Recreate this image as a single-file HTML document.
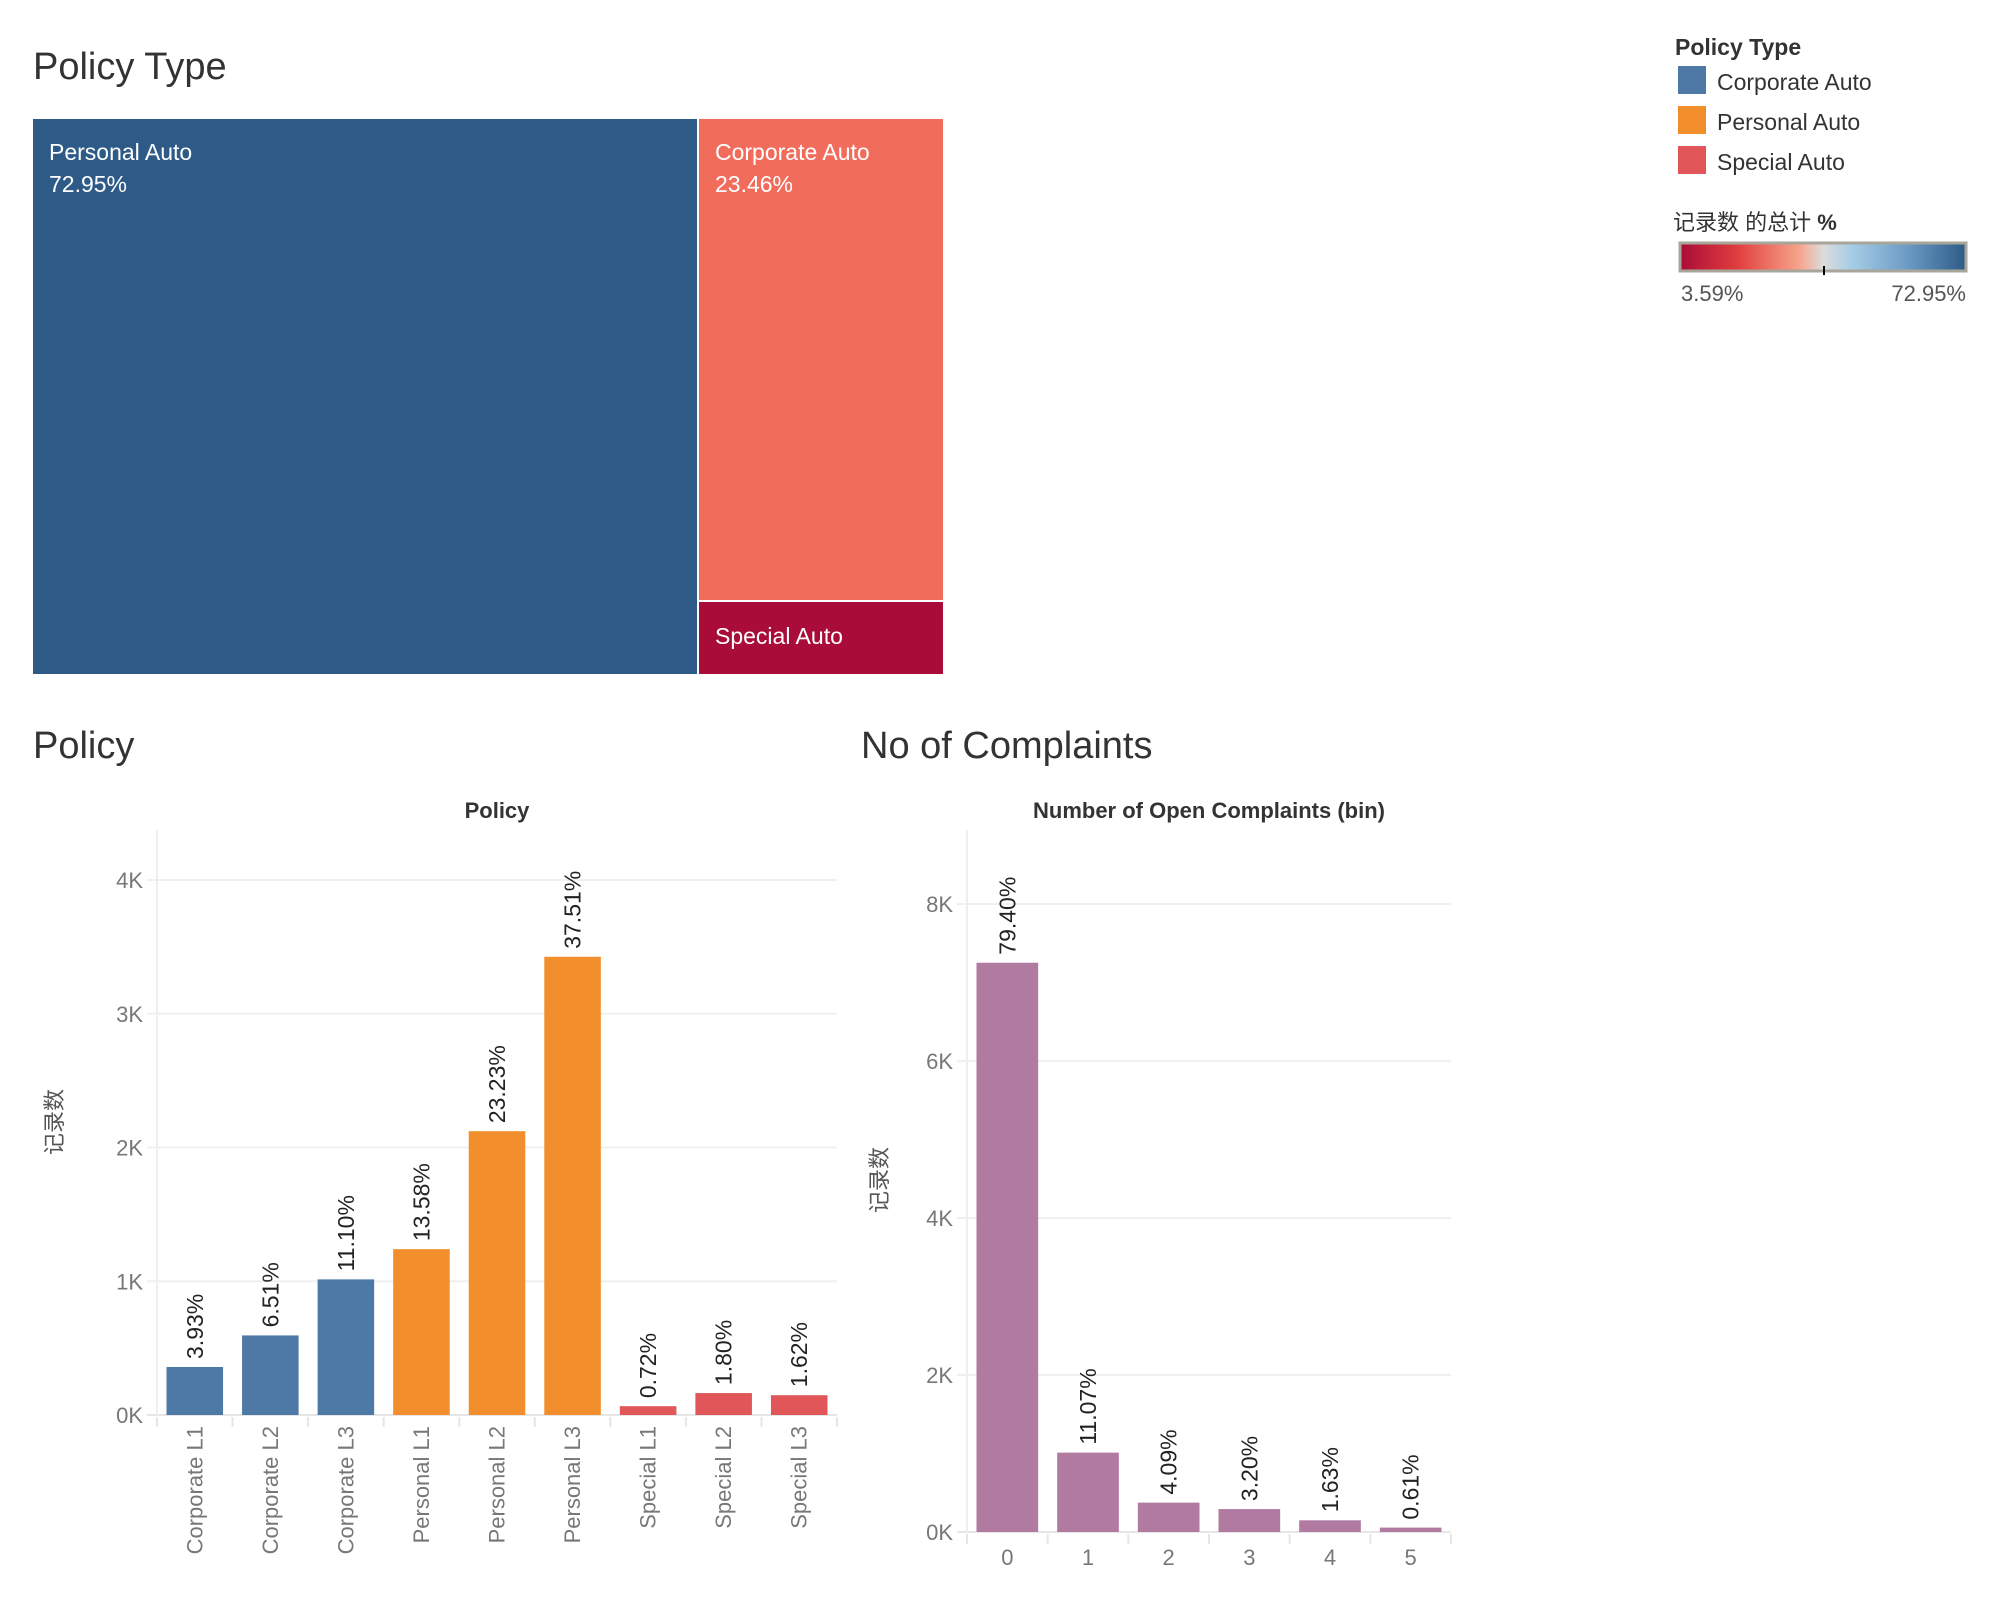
<!DOCTYPE html>
<html><head><meta charset="utf-8"><style>
html,body{margin:0;padding:0;background:#fff;}
svg text{font-family:"Liberation Sans","Noto Sans CJK SC",sans-serif;}
</style></head><body>
<svg id="root" width="2000" height="1600" viewBox="0 0 2000 1600" xmlns="http://www.w3.org/2000/svg">
<defs>
<linearGradient id="grad" x1="0" x2="1" y1="0" y2="0">
<stop offset="0" stop-color="#a90c38"/><stop offset="0.2" stop-color="#e03e3e"/><stop offset="0.42" stop-color="#f7a58c"/><stop offset="0.5" stop-color="#dcdcdc"/><stop offset="0.6" stop-color="#a6cde5"/><stop offset="0.8" stop-color="#6a9ac4"/><stop offset="1" stop-color="#2e5a87"/>
</linearGradient>
</defs>
<text x="33" y="79" font-size="38" fill="#333">Policy Type</text>
<g>
<rect x="33" y="119" width="664" height="555" fill="#2e5a87"/>
<rect x="699" y="119" width="244" height="481" fill="#f26c5c"/>
<rect x="699" y="602" width="244" height="72" fill="#a90c38"/>
<text x="49" y="160" font-size="23" fill="#fff">Personal Auto</text>
<text x="49" y="192" font-size="23" fill="#fff">72.95%</text>
<text x="715" y="160" font-size="23" fill="#fff">Corporate Auto</text>
<text x="715" y="192" font-size="23" fill="#fff">23.46%</text>
<text x="715" y="644" font-size="23" fill="#fff">Special Auto</text>
</g>
<g>
<text x="1675" y="55" font-size="23" font-weight="bold" fill="#333">Policy Type</text>
<rect x="1678" y="66" width="28" height="28" fill="#4e79a7"/>
<text x="1717" y="90" font-size="23" fill="#333">Corporate Auto</text>
<rect x="1678" y="106" width="28" height="28" fill="#f28e2b"/>
<text x="1717" y="130" font-size="23" fill="#333">Personal Auto</text>
<rect x="1678" y="146" width="28" height="28" fill="#e15759"/>
<text x="1717" y="170" font-size="23" fill="#333">Special Auto</text>
<text x="1673" y="230" font-size="22" fill="#333">记录数 的总计 <tspan font-weight="bold">%</tspan></text>
<rect x="1680" y="243" width="286" height="28" fill="url(#grad)" stroke="#a8a59a" stroke-width="3"/>
<line x1="1824" y1="266" x2="1824" y2="275" stroke="#000" stroke-width="2"/>
<text x="1681" y="301" font-size="22" fill="#555">3.59%</text>
<text x="1966" y="301" font-size="22" fill="#555" text-anchor="end">72.95%</text>
</g>
<text x="33" y="758" font-size="38" fill="#333">Policy</text>
<text x="861" y="758" font-size="38" fill="#333">No of Complaints</text>
<g id="c1"></g>
<g id="c2"></g>
</svg>
<script>
const policyCats = ["Corporate L1","Corporate L2","Corporate L3","Personal L1","Personal L2","Personal L3","Special L1","Special L2","Special L3"];
const policyCounts = [359,595,1014,1240,2122,3426,66,164,148];
const policyPcts = ["3.93%","6.51%","11.10%","13.58%","23.23%","37.51%","0.72%","1.80%","1.62%"];
const policyGroups = ["Corporate","Corporate","Corporate","Personal","Personal","Personal","Special","Special","Special"];
const policyTicks = [0,1000,2000,3000,4000];
const policyTickLabels = ["0K","1K","2K","3K","4K"];
const compCats = ["0","1","2","3","4","5"];
const compCounts = [7252,1011,374,292,149,56];
const compPcts = ["79.40%","11.07%","4.09%","3.20%","1.63%","0.61%"];
const compTicks = [0,2000,4000,6000,8000];
const compTickLabels = ["0K","2K","4K","6K","8K"];

const NS="http://www.w3.org/2000/svg";
function mk(parent,tag,attrs,txt){const e=document.createElementNS(NS,tag);for(const k in attrs)e.setAttribute(k,attrs[k]);if(txt!==undefined)e.textContent=txt;parent.appendChild(e);return e;}
const groupColor={Corporate:"#4e79a7",Personal:"#f28e2b",Special:"#e15759"};

function drawChart(g,cfg){
  const n=cfg.cats.length, band=(cfg.x1-cfg.x0)/n;
  const y=v=>cfg.y0-(v/cfg.max)*(cfg.y0-cfg.yTop);
  const xb=i=>cfg.x0+i*band;
  let e=mk(g,"text",{x:(cfg.x0+cfg.x1)/2,y:cfg.titleY,"font-size":22,"font-weight":"bold",fill:"#333","text-anchor":"middle"},cfg.title);
  
  
  e=mk(g,"text",{x:0,y:0,"font-size":22,fill:"#555","text-anchor":"middle",transform:`translate(${cfg.yTitleX},${cfg.yTitleY}) rotate(-90)`},"记录数");
  
  
  cfg.ticks.forEach((t,i)=>{
    const yy=y(t);
    const l=mk(g,"line",{x1:cfg.x0-10,x2:cfg.x1,y1:yy,y2:yy,stroke:i===0?"#e6e6e6":"#f0f0f0","stroke-width":2});
    
    
    const tl=mk(g,"text",{x:cfg.x0-14,y:yy+8,"font-size":22,fill:"#777","text-anchor":"end"},cfg.tickLabels[i]);
    
    
  });
  const ax=mk(g,"line",{x1:cfg.x0,x2:cfg.x0,y1:cfg.axisTop,y2:cfg.y0,stroke:"#efefef","stroke-width":2});
  
  
  for(let i=0;i<=n;i++){
    const s=mk(g,"line",{x1:xb(i),x2:xb(i),y1:cfg.y0+2,y2:cfg.y0+12,stroke:"#e6e6e6","stroke-width":2});
    
    
  }
  cfg.vals.forEach((v,i)=>{
    const bx=xb(i)+cfg.pad, bw=band-2*cfg.pad, top=y(v);
    const r=mk(g,"rect",{x:bx,y:top,width:bw,height:cfg.y0-top,fill:cfg.color(i)});
    
    
    const cx=xb(i)+band/2;
    const t=mk(g,"text",{x:0,y:0,"font-size":23,fill:"#222","dominant-baseline":"central",transform:`translate(${cx},${top-8}) rotate(-90)`},cfg.pcts[i]);
    
    
    if(cfg.rotX){
      const xl=mk(g,"text",{x:0,y:0,"font-size":22,fill:"#777","text-anchor":"end","dominant-baseline":"central",transform:`translate(${cx},${cfg.y0+11}) rotate(-90)`},cfg.cats[i]);
      
      
    }else{
      const xl=mk(g,"text",{x:cx,y:cfg.y0+33,"font-size":22,fill:"#777","text-anchor":"middle"},cfg.cats[i]);
      
      
    }
  });
}
drawChart(document.getElementById("c1"),{cats:policyCats,vals:policyCounts,pcts:policyPcts,ticks:policyTicks,tickLabels:policyTickLabels,
  x0:157,x1:837,y0:1415,yTop:880,max:4000,pad:9.5,axisTop:830,title:"Policy",titleY:818,yTitleX:62,yTitleY:1122,rotX:true,
  color:i=>groupColor[policyGroups[i]]});
drawChart(document.getElementById("c2"),{cats:compCats,vals:compCounts,pcts:compPcts,ticks:compTicks,tickLabels:compTickLabels,
  x0:967,x1:1451,y0:1532,yTop:904,max:8000,pad:9.5,axisTop:830,title:"Number of Open Complaints (bin)",titleY:818,yTitleX:887,yTitleY:1180,rotX:false,
  color:i=>"#b07aa1"});
</script>
</body></html>
